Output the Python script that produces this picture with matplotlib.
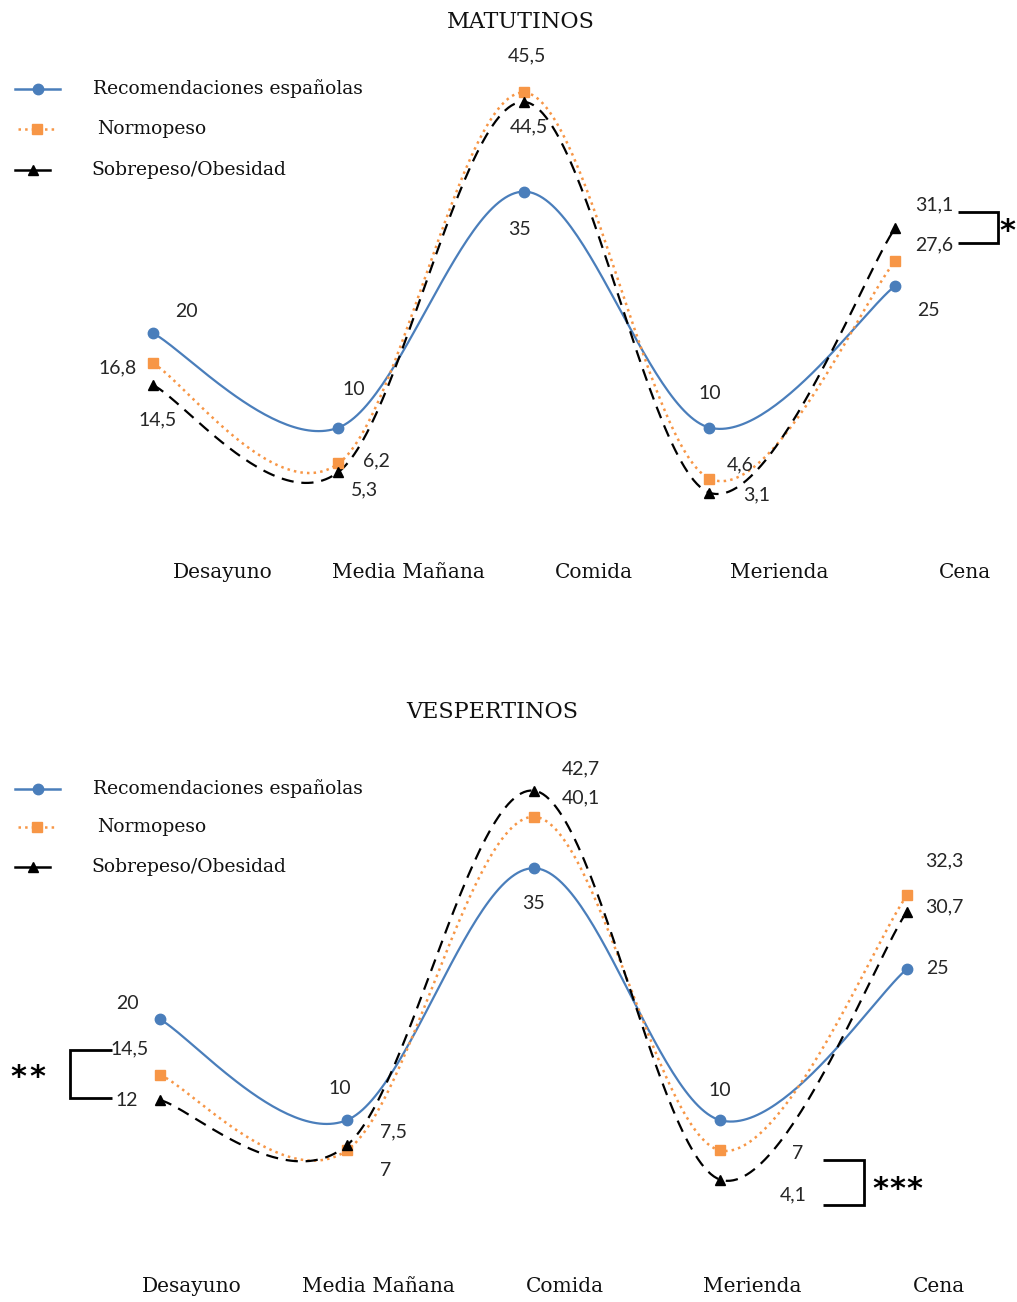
import numpy as np
import matplotlib.pyplot as plt
from matplotlib.lines import Line2D

# Data (% of daily energy intake per meal)
comidas = ['Desayuno', 'Media Mañana', 'Comida', 'Merienda', 'Cena']
recomendaciones = [20, 10, 35, 10, 25]
mat_normopeso = [16.8, 6.2, 45.5, 4.6, 27.6]
mat_sobrepeso = [14.5, 5.3, 44.5, 3.1, 31.1]
ves_normopeso = [14.5, 7, 40.1, 7, 32.3]
ves_sobrepeso = [12, 7.5, 42.7, 4.1, 30.7]

BLUE = '#4a7ebb'
ORANGE = '#f79646'
BLACK = '#000000'
SERIF = 'DejaVu Serif'
SANS = 'Lato'


def smooth(y, n=60):
    # Excel-like smoothed line: cubic Bezier with Catmull-Rom control points
    x = np.arange(len(y), dtype=float)
    p = np.column_stack([x, np.asarray(y, dtype=float)])
    pts = []
    t = np.linspace(0, 1, n)[:, None]
    for i in range(len(p) - 1):
        p0 = p[max(i - 1, 0)]
        p1 = p[i]
        p2 = p[i + 1]
        p3 = p[min(i + 2, len(p) - 1)]
        c1 = p1 + (p2 - p0) / 6
        c2 = p2 - (p3 - p1) / 6
        seg = ((1 - t) ** 3) * p1 + 3 * ((1 - t) ** 2) * t * c1 + 3 * (1 - t) * t ** 2 * c2 + t ** 3 * p2
        pts.append(seg if i == 0 else seg[1:])
    pts = np.vstack(pts)
    return pts[:, 0], pts[:, 1]


def draw_series(ax, y, color, ls, marker, lw=1.6, ms=7.5, dashes=None):
    sx, sy = smooth(y)
    line, = ax.plot(sx, sy, color=color, ls=ls, lw=lw, zorder=2)
    if dashes is not None:
        line.set_dashes(dashes)
    ax.plot(range(len(y)), y, ls='none', marker=marker, color=color,
            ms=ms, zorder=3)


def label(ax, y, offsets):
    for i, (v, (dx, dy)) in enumerate(zip(y, offsets)):
        txt = ('%g' % v).replace('.', ',')
        ax.annotate(txt, (i, v), xytext=(dx, -dy), textcoords='offset pixels',
                    ha='center', va='center', fontsize=14, family=SANS,
                    color='#262626')


fig = plt.figure(figsize=(10.17, 13.02), dpi=100)
W, H = 1017, 1302

# overlay in pixel coordinates for titles, legends and brackets
ov = fig.add_axes([0, 0, 1, 1], zorder=5)
ov.set_xlim(0, W)
ov.set_ylim(H, 0)
ov.axis('off')
ov.patch.set_alpha(0)


def data_axes(top_px, bot_px, x0_px, unit_px, y0_px, ppu):
    ax = fig.add_axes([0, (H - bot_px) / H, 1, (bot_px - top_px) / H])
    ax.set_xlim(-x0_px / unit_px, (W - x0_px) / unit_px)
    ax.set_ylim((y0_px - bot_px) / ppu, (y0_px - top_px) / ppu)
    ax.axis('off')
    return ax


# ---- MATUTINOS ----
ax1 = data_axes(0, 620, 153, 185.5, 522, 9.44)
draw_series(ax1, recomendaciones, BLUE, '-', 'o')
draw_series(ax1, mat_normopeso, ORANGE, ':', 's', lw=1.8)
draw_series(ax1, mat_sobrepeso, BLACK, '--', '^', dashes=(5.5, 3.5))
label(ax1, recomendaciones, [(33, -22), (15, -38), (-4, 38), (0, -34), (33, 25)])
label(ax1, mat_normopeso, [(-35, 4), (38, -3), (3, -37), (31, -14), (39, -17)])
label(ax1, mat_sobrepeso, [(5, 35), (26, 18), (5, 25), (47, 2), (39, -24)])
for i, c in enumerate(comidas):
    ax1.text(i + 0.377, (522 - 572) / 9.44, c, ha='center', va='center',
             fontsize=14.5, family=SERIF, color='#111111')

# ---- VESPERTINOS ----
ax2 = data_axes(640, 1302, 160, 186.75, 1221, 10.08)
draw_series(ax2, recomendaciones, BLUE, '-', 'o')
draw_series(ax2, ves_normopeso, ORANGE, ':', 's', lw=1.8)
draw_series(ax2, ves_sobrepeso, BLACK, '--', '^', dashes=(5.5, 3.5))
label(ax2, recomendaciones, [(-33, -16), (-7, -32), (0, 35), (0, -30), (30, 0)])
label(ax2, ves_normopeso, [(-30, -26), (39, 20), (47, -19), (77, 3), (37, -35)])
label(ax2, ves_sobrepeso, [(-33, 0), (47, -14), (47, -22), (73, 15), (37, -5)])
for i, c in enumerate(comidas):
    ax2.text(i + 0.17, (1221 - 1286) / 10.08, c, ha='center', va='center',
             fontsize=14.5, family=SERIF, color='#111111')

# titles
ov.text(521, 22, 'MATUTINOS', ha='center', va='center', fontsize=16,
        family=SERIF, color='#111111')
ov.text(492, 712, 'VESPERTINOS', ha='center', va='center', fontsize=16,
        family=SERIF, color='#111111')

# legends
names = ['Recomendaciones españolas', 'Normopeso', 'Sobrepeso/Obesidad']
styles = [(BLUE, '-', 'o', 15, 60, 93), (ORANGE, ':', 's', 18, 55, 97),
          (BLACK, '-', '^', 15, 50, 91)]
for rows in ([89, 129, 170], [789, 827, 867]):
    for name, (col, ls, mk, xa, xb, xt), ry in zip(names, styles, rows):
        ov.add_line(Line2D([xa, xb], [ry, ry], color=col, ls=ls, lw=1.8))
        ov.plot([(xa + xb) / 2], [ry], marker=mk, color=col, ms=7.5)
        ov.text(xt, ry, name, ha='left', va='center', fontsize=13.5,
                family=SERIF, color='#111111')


# significance brackets
def stars(xc, yc, n, gap=19):
    for k in range(n):
        ov.text(xc + (k - (n - 1) / 2) * gap, yc + 5, '*', ha='center',
                va='center', fontsize=22, family='DejaVu Sans',
                fontweight='bold')


bk = dict(color='black', lw=2, solid_capstyle='butt', solid_joinstyle='miter')
ov.plot([958, 998, 998, 958], [212, 212, 243, 243], **bk)
stars(1007, 226, 1)
ov.plot([112, 70, 70, 112], [1050, 1050, 1098, 1098], **bk)
stars(28, 1073, 2)
ov.plot([823, 864, 864, 823], [1160, 1160, 1205, 1205], **bk)
stars(897, 1184, 3, gap=17)

fig.savefig('out.png', dpi=100, facecolor='white')
